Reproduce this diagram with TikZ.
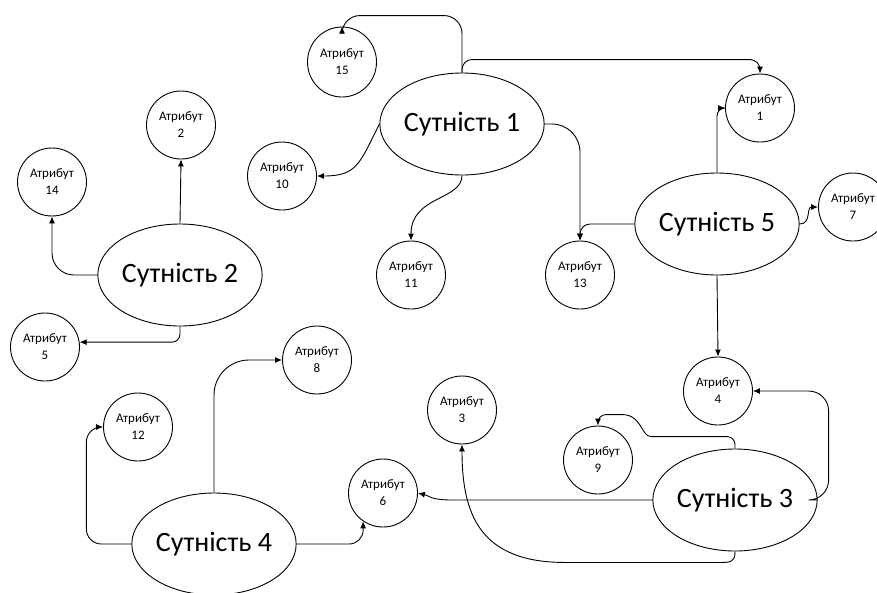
\documentclass[tikz,border=0pt]{standalone}
\usepackage{fontspec}
\setmainfont{Carlito}
\usetikzlibrary{shapes.geometric,arrows.meta}
\begin{document}
\begin{tikzpicture}[x=1pt,y=-1pt]
	    \tikzset{>={Latex[length=7pt,width=6pt]}}
	    \tikzset{entity/.style={draw,ellipse,line width=0.9pt,minimum width=156pt,minimum height=102pt,inner sep=0pt,font=\fontsize{28}{32}\selectfont}}
	    \tikzset{attr/.style={draw,ellipse,line width=0.9pt,minimum width=69pt,minimum height=68pt,inner sep=0pt,align=center,font=\fontsize{13}{17}\selectfont}}
	    \tikzset{link/.style={->,line width=0.9pt}}
	    \useasboundingbox (0,0) rectangle (877,592);
	    % entities
	    \node[entity] (e1) at (462,124) {Сутність 1};
	    \node[entity] (e2) at (180,275) {Сутність 2};
	    \node[entity] (e3) at (735,500) {Сутність 3};
	    \node[entity] (e4) at (214,544) {Сутність 4};
	    \node[entity] (e5) at (717,224) {Сутність 5};
	    % attributes
	    \node[attr] (a1) at (760,108) {Атрибут\\1};
	    \node[attr] (a2) at (181,125) {Атрибут\\2};
	    \node[attr] (a3) at (462,410) {Атрибут\\3};
	    \node[attr] (a4) at (718,391) {Атрибут\\4};
	    \node[attr] (a5) at (45,347) {Атрибут\\5};
	    \node[attr] (a6) at (383,493) {Атрибут\\6};
	    \node[attr] (a7) at (853,207) {Атрибут\\7};
	    \node[attr] (a8) at (317,360) {Атрибут\\8};
	    \node[attr] (a9) at (598,460) {Атрибут\\9};
	    \node[attr] (a10) at (282,176) {Атрибут\\10};
	    \node[attr] (a11) at (411,275) {Атрибут\\11};
	    \node[attr] (a12) at (138,427) {Атрибут\\12};
	    \node[attr] (a13) at (580,275) {Атрибут\\13};
	    \node[attr] (a14) at (52,182) {Атрибут\\14};
	    \node[attr,minimum height=70pt] (a15) at (342,62) {Атрибут\\15};
	    % links of entity 1
	    \draw[link,rounded corners=18pt] (e1.north) -- ++(0,-57) -| (a15.north);
	    \draw[link,rounded corners=10pt] (e1.north) -- ++(0,-13) -| (a1.north);
	    \draw[link] (e1.west) .. controls +(-20,40) and +(40,0) .. (a10.east);
	    \draw[link] (e1.south) .. controls +(0,25) and +(0,-45) .. (a11.north);
	    \draw[link,rounded corners=28pt] (e1.east) -| (a13.north);
	    % links of entity 5
	    \draw[link,rounded corners=10pt] (e5.west) -| (a13.north);
	    \draw[link,rounded corners=8pt] (e5.north) |- (a1.west);
	    \draw[link] (e5.east) .. controls +(12,0) and +(-12,0) .. (a7.west);
	    \draw[link] (e5.south) -- (a4.north);
	    % links of entity 2
	    \draw[link] (e2.north) -- (a2.south);
	    \draw[link,rounded corners=22pt] (e2.west) -| (a14.south);
	    \draw[link,rounded corners=8pt] (e2.south) |- (a5.8);
	    % links of entity 4
	    \draw[link,rounded corners=15pt] (e4.west) -- ++(-45,0) |- (a12.west);
	    \draw[link,rounded corners=35pt] (e4.north) |- (a8.west);
	    \draw[link,rounded corners=14pt] (e4.east) -| (a6.235);
	    % links of entity 3
	    \draw[link] (e3.west) -- ++(-200,0) .. controls +(-22,0) and +(12,3) .. (a6.east);
	    \draw[link] (e3.south) .. controls +(0,12) and +(15,0) .. ++(-20,11) -- ++(-150,0) .. controls +(-85,0) and +(0,70) .. (a3.south);
	    \draw[link,rounded corners=20pt] (e3.east) -- ++(11,0) |- (a4.east);
	    \draw[link] (e3.north) [rounded corners=8pt] |- ++(-76,-12) [sharp corners] .. controls +(-18,0) and +(20,0) .. ++(-37,-22) [rounded corners=8pt] -| (a9.north);
	\end{tikzpicture}
\end{document}
